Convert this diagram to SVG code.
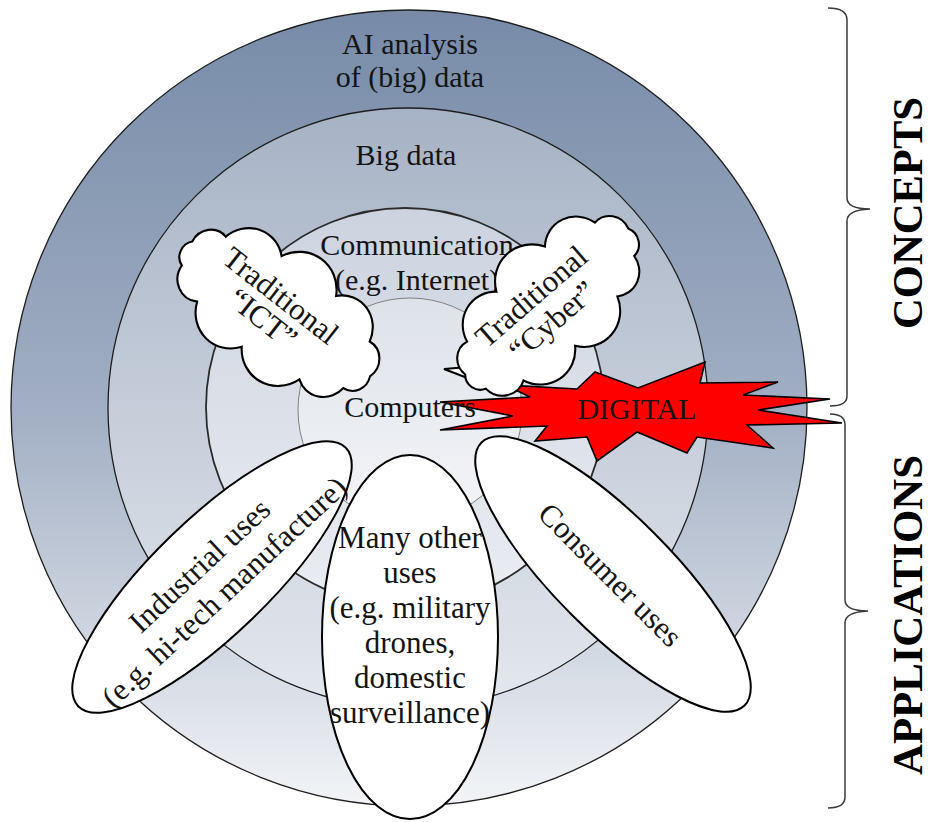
<svg xmlns="http://www.w3.org/2000/svg" xmlns:xlink="http://www.w3.org/1999/xlink" width="934" height="822" viewBox="0 0 934 822">
<style>
.t{font-family:"Liberation Serif","Times New Roman",serif;font-size:30px;fill:#141414;text-anchor:middle}
.t31{font-size:31px}
.ring{stroke:#1e1e1e}
.shape{fill:#ffffff;stroke:#000000;stroke-width:2}
.edge{fill:none;stroke:#000000;stroke-width:2}
.brace{fill:none;stroke:#3a3a3a;stroke-width:1.5}
.lbl{font-family:"Liberation Serif","Times New Roman",serif;font-weight:bold;font-size:42px;fill:#000;text-anchor:middle}
</style>
<defs>
<linearGradient id="g1" x1="0" y1="0" x2="0" y2="1">
<stop offset="0" stop-color="#778ba8"/>
<stop offset="0.5" stop-color="#a1aec3"/>
<stop offset="1" stop-color="#f2f4f7"/>
</linearGradient>
<linearGradient id="g2" x1="0" y1="0" x2="0" y2="1">
<stop offset="0" stop-color="#a6b2c5"/>
<stop offset="1" stop-color="#e4e8ee"/>
</linearGradient>
<linearGradient id="g3" x1="0" y1="0" x2="0" y2="1">
<stop offset="0" stop-color="#ccd3df"/>
<stop offset="1" stop-color="#eaedf2"/>
</linearGradient>
<linearGradient id="g4" x1="0" y1="0" x2="0" y2="1">
<stop offset="0" stop-color="#dde2e9"/>
<stop offset="1" stop-color="#f4f5f8"/>
</linearGradient>
<path id="cloud" d="M108,0 A16,16 0 0 1 93.5,22.5 A25,25 0 0 1 54,39 A36,36 0 0 1 -9.4,44.8 A35,35 0 0 1 -69.4,34.5 A22,22 0 0 1 -101.5,15.4 A14,14 0 0 1 -106.4,-7.8 A19,19 0 0 1 -82.7,-28.9 A33,33 0 0 1 -28,-43.5 A37,37 0 0 1 36.9,-42.3 A31,31 0 0 1 88.5,-25.8 A19,19 0 0 1 108,0 Z"/>
</defs>

<g id="ring-ai">
<circle cx="409" cy="408" r="398" fill="url(#g1)" class="ring" stroke-width="1.3"/>
<text class="t" x="410" y="54">AI analysis</text>
<text class="t" x="410" y="87">of (big) data</text>
</g>
<g id="ring-bigdata">
<circle cx="408" cy="408" r="300" fill="url(#g2)" class="ring" stroke-width="1.3"/>
<text class="t" x="406" y="165">Big data</text>
</g>
<g id="ring-communication">
<circle cx="405" cy="407" r="199" fill="url(#g3)" stroke="#2a2a2a" stroke-width="1.8"/>
<text class="t" x="417" y="255">Communication</text>
<text class="t" x="417" y="290">(e.g. Internet)</text>
</g>
<g id="ring-computers">
<circle cx="410" cy="410" r="112" fill="url(#g4)" stroke="#808080" stroke-width="1"/>
</g>

<g id="digital">
<polygon points="505,385 577,389 595,372 638,388 705,362 700,383 778,382 743,395 830,399 758,410 842,423 747,425 773,448 697,437 687,453 637,432 597,461 587,437 535,441 547,426 440,430 513,416 440,402 530,397" fill="#ff0000" stroke="#000" stroke-width="1.6" stroke-linejoin="miter"/>
<text class="t" x="637" y="419" font-size="27">DIGITAL</text>
</g>
<g id="computers-label">
<text class="t" x="410" y="417">Computers</text>
</g>

<g id="cloud-ict">
<use xlink:href="#cloud" class="shape" transform="translate(278,312) rotate(35) scale(1.04,1.1)"/>
<g transform="translate(272,307) rotate(38)">
<text class="t t31" x="0" y="-4">Traditional</text>
<text class="t t31" x="0" y="25">“ICT”</text>
</g>
</g>
<g id="cloud-cyber">
<path d="M468,367 L444,369 L470,379" class="shape"/>
<use xlink:href="#cloud" class="shape" transform="translate(549,305) rotate(-44) scale(1.02,1.06)"/>
<g transform="translate(542,309) rotate(-41)">
<text class="t t31" x="0" y="-6">Traditional</text>
<text class="t t31" x="0" y="26">“Cyber”</text>
</g>
</g>

<g id="uses-fills">
<ellipse cx="212" cy="577" rx="186" ry="58" transform="rotate(-44 212 577)" fill="#fff"/>
<ellipse cx="613" cy="574" rx="186" ry="58" transform="rotate(45 613 574)" fill="#fff"/>
<ellipse cx="410" cy="637" rx="88" ry="182" fill="#fff"/>
</g>
<g id="industrial">
<ellipse cx="212" cy="577" rx="186" ry="58" transform="rotate(-44 212 577)" class="edge"/>
<g transform="translate(212,579) rotate(-43)">
<text class="t t31" x="0" y="-8">Industrial uses</text>
<text class="t t31" x="0" y="28">(e.g. hi-tech manufacture)</text>
</g>
</g>
<g id="consumer">
<ellipse cx="613" cy="574" rx="186" ry="58" transform="rotate(45 613 574)" class="edge"/>
<text class="t t31" transform="translate(610,575) rotate(45)" x="0" y="10">Consumer uses</text>
</g>
<g id="many-other">
<ellipse cx="410" cy="637" rx="88" ry="182" class="edge"/>
<text class="t t31" x="410" y="548">Many other</text>
<text class="t t31" x="410" y="583">uses</text>
<text class="t t31" x="410" y="618">(e.g. military</text>
<text class="t t31" x="410" y="653">drones,</text>
<text class="t t31" x="410" y="688">domestic</text>
<text class="t t31" x="410" y="723">surveillance)</text>
</g>

<g id="brackets">
<path class="brace" d="M828,8 Q847,8 847,20 L847,198 Q847,209 870,209 Q847,210 847,221 L847,396 Q847,406 830,406"/>
<path class="brace" d="M830,414 Q845,414 845,425 L845,600 Q845,611 868,611 Q845,612 845,623 L845,797 Q845,808 828,808"/>
</g>
<g id="label-concepts">
<text class="lbl" transform="translate(922,213) rotate(-90)" textLength="232" lengthAdjust="spacingAndGlyphs">CONCEPTS</text>
</g>
<g id="label-applications">
<text class="lbl" transform="translate(922,615) rotate(-90)" textLength="320" lengthAdjust="spacingAndGlyphs">APPLICATIONS</text>
</g>
</svg>
